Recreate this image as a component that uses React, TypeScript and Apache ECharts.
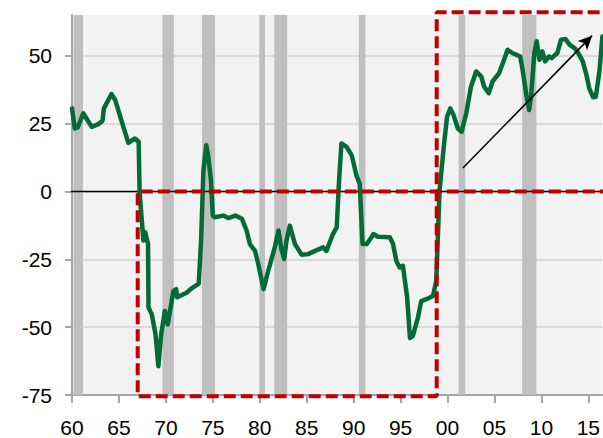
import React, { useEffect, useRef } from "react";
import * as echarts from "echarts";

// Green series: year (decimal) and value
const years = [
  1960.0, 1960.3, 1960.6, 1961.2, 1962.1, 1962.8, 1963.25, 1963.4, 1964.2, 1964.6,
  1965.3, 1966.0, 1966.7, 1967.1, 1967.2, 1967.6, 1967.8, 1968.1, 1968.15, 1968.5,
  1968.9, 1969.2, 1969.5, 1969.9, 1970.2, 1970.8, 1971.1, 1971.2, 1972.2, 1972.75,
  1973.5, 1973.75, 1974.0, 1974.3, 1974.5, 1974.8, 1975.0, 1975.2, 1976.1, 1976.65,
  1977.4, 1978.1, 1978.6, 1978.95, 1979.5, 1979.85, 1980.4, 1980.9, 1981.6, 1982.0,
  1982.3, 1982.6, 1982.85, 1983.2, 1983.75, 1984.45, 1985.15, 1985.9, 1986.75, 1987.1,
  1987.8, 1988.2, 1988.45, 1988.7, 1989.25, 1989.8, 1990.3, 1990.65, 1990.95, 1991.4,
  1991.9, 1992.1, 1992.6, 1993.85, 1994.2, 1994.55, 1994.9, 1995.25, 1995.7, 1996.0,
  1996.3, 1996.85, 1997.2, 1997.75, 1998.45, 1998.8, 1999.0, 1999.15, 1999.6, 1999.95,
  2000.3, 2000.65, 2001.1, 2001.5, 2002.0, 2002.5, 2003.05, 2003.6, 2003.9, 2004.4,
  2004.8, 2005.5, 2005.9, 2006.4, 2006.9, 2007.3, 2007.75, 2008.0, 2008.4, 2008.7,
  2008.9, 2009.25, 2009.5, 2009.8, 2010.1, 2010.4, 2010.8, 2011.1, 2011.7, 2012.1,
  2012.55, 2013.0, 2013.6, 2014.0, 2014.4, 2014.75, 2015.1, 2015.5, 2015.8, 2016.2,
  2016.5,
];
const values = [
  30.6, 23.2, 23.5, 28.8, 23.8, 24.8, 26, 30.6, 35.9, 33.7,
  25.7, 17.9, 19.5, 18.3, -0.2, -18.1, -15, -19.4, -42.8, -45.3,
  -52.7, -64.4, -52.7, -44, -49, -36.7, -36, -39, -37.3, -35.7,
  -34, -18.1, 7.8, 17, 13.3, 4.1, -8.9, -9.5, -8.9, -9.8,
  -8.9, -10.1, -14.4, -19.4, -21.9, -26.8, -36, -29.3, -20.6, -14.4,
  -21.2, -24.9, -18.1, -12.6, -19.4, -23.3, -23.1, -21.9, -20.6, -21.9,
  -15.7, -13.2, 4.1, 17.7, 16.4, 13.3, 5.9, 2.8, -19.4, -19.4,
  -16.9, -15.7, -16.7, -16.9, -19.4, -25.6, -28, -27.4, -39.1, -54,
  -53.3, -46.5, -40.4, -39.7, -38.5, -33, -14.4, 0.2, 16.4, 27.5,
  30.6, 28.1, 23.2, 22, 28.8, 38.6, 44.2, 42.3, 38.6, 36.2,
  40.5, 43.6, 47.3, 52.2, 51, 50.4, 49.7, 44.8, 35.6, 30,
  34.9, 51, 55.3, 48.5, 51.6, 47.9, 49.7, 49.1, 51, 55.9,
  56.2, 54.1, 52.6, 50.5, 48, 43.6, 38, 34.7, 34.9, 44.8,
  57.1,
];

// Recession shading (start, end)
const recessionStarts = [1960.17, 1969.63, 1973.85, 1979.95, 1981.54, 1990.55, 2001.18, 2007.95];
const recessionEnds = [1961.17, 1970.85, 1975.24, 1980.55, 1982.92, 1991.26, 2001.89, 2009.47];

// Axis settings
const xMin = 1960;
const xMax = 2016.5;
const yMin = -75;
const yMax = 65;
const yTicks = [-75, -50, -25, 0, 25, 50];
const xTicks = [1960, 1965, 1970, 1975, 1980, 1985, 1990, 1995, 2000, 2005, 2010, 2015];

// Annotation boxes: path corners (year, value)
const boxPathYears = [2017.5, 1967.0, 1967.0, 1998.85, 1998.85, 2017.5];
const boxPathValues = [0, 0, -75.5, -75.5, 66, 66];

// Arrow (from, to)
const arrowFrom = [2001.64, 8.6];
const arrowTo = [2015.4, 57.4];

// Zero line extent
const zeroLineYears = [1959.25, 2017.5];

const FONT = "'Liberation Sans Narrow', 'Arial Narrow', 'Liberation Sans', Arial, sans-serif";

export default function App() {
  const ref = useRef<HTMLDivElement>(null);
  useEffect(() => {
    if (!ref.current) return;
    const chart = echarts.init(ref.current, null, { renderer: "svg" });
    const lineData = years.map((y, i) => [y, values[i]]);
    const boxData = boxPathYears.map((y, i) => [y, boxPathValues[i]]);
    const zeroData = zeroLineYears.map((y) => [y, 0]);
    chart.setOption({
      animation: false,
      backgroundColor: "#ffffff",
      grid: {
        left: 72,
        right: 0,
        top: 15,
        bottom: 43,
        show: true,
        backgroundColor: "#f2f2f2",
        borderWidth: 0,
      },
      xAxis: {
        type: "value",
        min: xMin,
        max: xMax,
        interval: 5,
        axisLine: { show: true, onZero: false, lineStyle: { color: "#a6a6a6", width: 2 } },
        axisTick: {
          show: true,
          length: 8,
          customValues: xTicks,
          lineStyle: { color: "#a6a6a6", width: 2 },
        },
        axisLabel: {
          customValues: xTicks,
          margin: 22,
          color: "#000",
          fontSize: 21,
          fontFamily: FONT,
          formatter: (v: number) => String(Math.round(v) % 100).padStart(2, "0"),
        },
        splitLine: { show: false },
      },
      yAxis: {
        type: "value",
        min: yMin,
        max: yMax,
        interval: 25,
        axisLine: { show: true, lineStyle: { color: "#a6a6a6", width: 2 } },
        axisTick: {
          show: true,
          length: 7,
          customValues: yTicks,
          lineStyle: { color: "#a6a6a6", width: 2 },
        },
        axisLabel: {
          customValues: yTicks,
          margin: 20,
          color: "#000",
          fontSize: 21,
          fontFamily: FONT,
        },
        splitLine: { show: true, lineStyle: { color: "#d9d9d9", width: 2 } },
      },
      series: [
        {
          type: "line",
          data: [],
          silent: true,
          markArea: {
            silent: true,
            itemStyle: { color: "#bfbfbf" },
            data: recessionStarts.map((s, i) => [{ xAxis: s }, { xAxis: recessionEnds[i] }]),
          },
        },
        {
          type: "line",
          data: zeroData,
          showSymbol: false,
          clip: false,
          silent: true,
          lineStyle: { color: "#000", width: 1.5 },
          z: 3,
        },
        {
          type: "line",
          data: lineData,
          showSymbol: false,
          silent: true,
          lineStyle: { color: "#036b35", width: 4.5, join: "round", cap: "round" },
          z: 4,
        },
        {
          type: "line",
          data: boxData,
          showSymbol: false,
          clip: false,
          silent: true,
          lineStyle: { color: "#c00000", width: 4, type: [12, 5] },
          z: 5,
          markLine: {
            silent: true,
            symbol: ["none", "arrow"],
            symbolSize: [10, 14],
            label: { show: false },
            lineStyle: { color: "#000", width: 1.5, type: "solid" },
            data: [[{ coord: arrowFrom }, { coord: arrowTo }]],
          },
        },
      ],
    });
    return () => chart.dispose();
  }, []);
  return (
    <div
      ref={ref}
      style={{ position: "fixed", left: 0, top: 0, width: 603, height: 438, background: "#fff" }}
    />
  );
}
